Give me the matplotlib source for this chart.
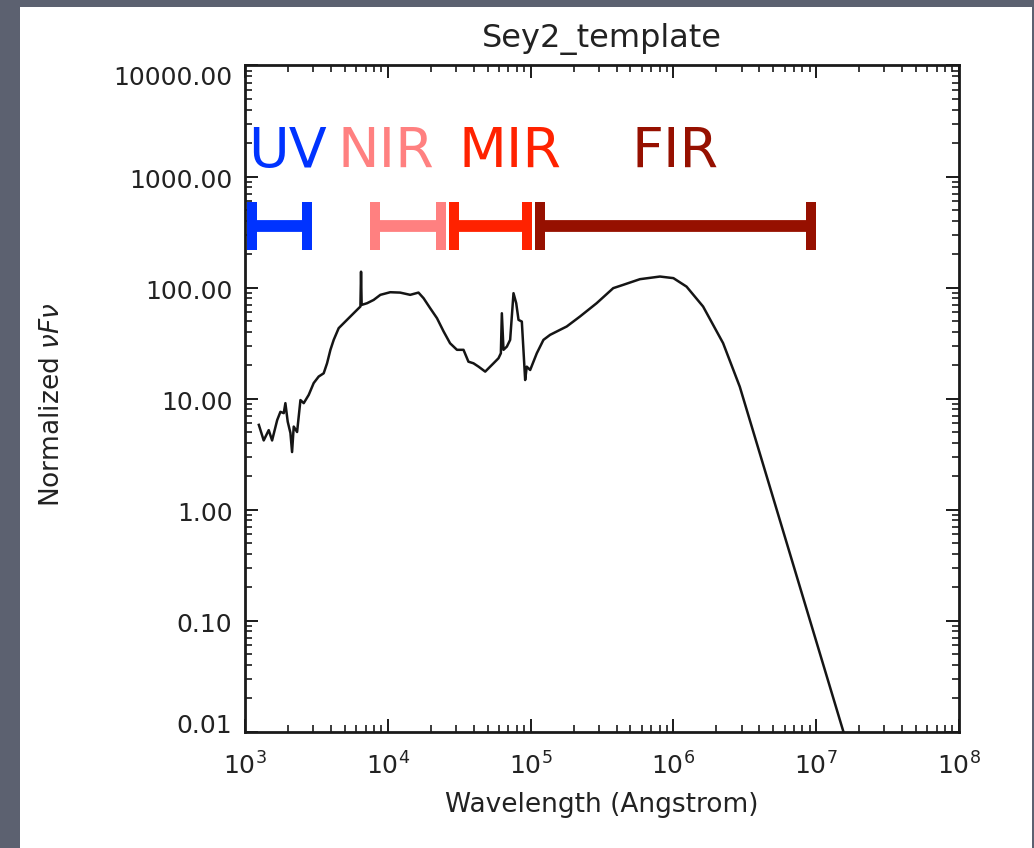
import numpy as np
import matplotlib
matplotlib.use("Agg")
import matplotlib.pyplot as plt
import matplotlib.transforms as mtransforms
from matplotlib.ticker import FixedLocator, LogLocator, FuncFormatter, NullFormatter
from matplotlib.patches import Rectangle

# ---------------- data ----------------
wavelength = [1250, 1352, 1466, 1548, 1680, 1770, 1868, 1918, 1991, 2080, 2136, 2194,
              2316, 2445, 2578, 2794, 3027, 3281, 3556, 3755, 3965, 4180, 4530, 4910,
              5470, 6090, 6430, 6495, 6560, 7160, 7960, 8870, 10400, 12200, 14350,
              16400, 17800, 19800, 22100, 24600, 27300, 30500, 33900, 36700, 39800,
              43200, 48100, 55000, 59600, 61900, 62900, 64600, 68200, 71900, 75900,
              79300, 82300, 86800, 89100, 91600, 94000, 99300, 110500, 123000, 136900,
              160600, 179000, 221800, 290000, 379000, 445000, 583000, 805000, 1.0e6,
              1.236e6, 1.614e6, 2.228e6, 2.916e6, 1.54e7, 1.6e7]
flux = [5.8, 4.2, 5.2, 4.2, 6.4, 7.6, 7.4, 9.1, 6.2, 4.9, 3.3, 5.6,
        5.0, 9.7, 9.1, 10.8, 13.8, 15.8, 16.9, 20.8, 27.5, 33.8, 43.1, 47.8,
        54.9, 63, 67.5, 139, 69.8, 72.3, 77.4, 86, 90.8, 90.1, 86,
        90.1, 80.2, 65.2, 53, 40.2, 31.5, 27.5, 27.5, 21.5, 20.8,
        19.4, 17.5, 20.8, 23.1, 25.6, 58.7, 27.5, 29.4, 33.8, 89,
        72.3, 51.2, 49.4, 27.5, 14.7, 19.4, 18.1, 25.6, 33.8, 37.5,
        41.6, 44.6, 54.9, 72.3, 98.8, 105.8, 119, 125.7, 121.6,
        102, 67.5, 31.6, 12.8, 0.0103, 0.0088]

band_names = ["UV", "NIR", "MIR", "FIR"]
band_lo = [1120, 8100, 29000, 116000]
band_hi = [2710, 23500, 94000, 9.2e6]
band_level = 360
band_colors = ["#0033ff", "#ff8080", "#ff2200", "#961000"]
band_label_x = [1980, 9620, 71900, 1.03e6]
band_label_y = 1670

yticks = [0.01, 0.1, 1, 10, 100, 1000, 10000]
xticks = [1e3, 1e4, 1e5, 1e6, 1e7, 1e8]

# ---------------- figure ----------------
W, H = 1034, 848
fig = plt.figure(figsize=(W / 100, H / 100), dpi=100, facecolor="#5c6170")
fig.patches.append(Rectangle((19.5 / W, 0), (1031.5 - 19.5) / W, (H - 7) / H,
                             transform=fig.transFigure, facecolor="white",
                             edgecolor="none", zorder=-10))

ax = fig.add_axes([245 / W, (H - 731.7) / H, (959 - 245) / W, (731.7 - 65.5) / H])
ax.set_zorder(5)
ax.set_facecolor("white")
txt = "#222222"

ax.plot(wavelength, flux, color="#151515", lw=1.8, solid_joinstyle="round", zorder=3)

for lo, hi, c in zip(band_lo, band_hi, band_colors):
    cen = np.sqrt(lo * hi)
    ax.errorbar([cen], [band_level], xerr=[[cen - lo], [hi - cen]], fmt="none",
                ecolor=c, elinewidth=8.5, capsize=17, capthick=7.2, zorder=4)

for name, lx, c in zip(band_names, band_label_x, band_colors):
    ax.text(lx, band_label_y, name, color=c, fontsize=40, ha="center", va="center",
            fontfamily="DejaVu Sans", zorder=5)

ax.set_xscale("log")
ax.set_yscale("log")
ax.set_xlim(1e3, 1e8)
ax.set_ylim(0.01, 10000)

ax.xaxis.set_major_locator(FixedLocator(xticks))
ax.yaxis.set_major_locator(FixedLocator(yticks))
ax.xaxis.set_minor_locator(LogLocator(base=10, subs=np.arange(2, 10), numticks=100))
ax.yaxis.set_minor_locator(LogLocator(base=10, subs=np.arange(2, 10), numticks=100))
ax.xaxis.set_minor_formatter(NullFormatter())
ax.yaxis.set_minor_formatter(NullFormatter())
ax.xaxis.set_major_formatter(FuncFormatter(lambda v, p: r"$10^{%d}$" % int(round(np.log10(v)))))
ax.yaxis.set_major_formatter(FuncFormatter(lambda v, p: "%.2f" % v))

ax.tick_params(which="both", direction="in", top=True, right=True, colors="#1a1a1a",
               labelcolor=txt)
ax.tick_params(which="major", length=9.5, width=1.4, labelsize=18)
ax.tick_params(axis="y", which="major", pad=9)
ax.tick_params(axis="x", which="major", pad=15)
ax.tick_params(which="minor", length=5, width=1.2)
for s in ax.spines.values():
    s.set_linewidth(2.0)
    s.set_color("#1a1a1a")

# IDL-style: extreme y tick labels pulled inside the axis range
fig.canvas.draw()
ylabels = ax.get_yticklabels()
for i, lab in enumerate(ylabels):
    if i == 0:
        dy = 8 / 72
    elif i == len(ylabels) - 1:
        dy = -10 / 72
    else:
        dy = -2 / 72
    lab.set_transform(lab.get_transform() +
                      mtransforms.ScaledTranslation(0, dy * 0.72, fig.dpi_scale_trans))

ax.set_title("Sey2_template", fontsize=23, color=txt, pad=13)
ax.set_xlabel("Wavelength (Angstrom)", fontsize=19, color=txt)
ax.xaxis.set_label_coords(0.5, -0.09)
ax.set_ylabel(r"Normalized $\nu F\nu$", fontsize=19, color=txt)
ax.yaxis.set_label_coords(-0.252, 0.49)

fig.savefig("out.png", dpi=100, facecolor=fig.get_facecolor())
